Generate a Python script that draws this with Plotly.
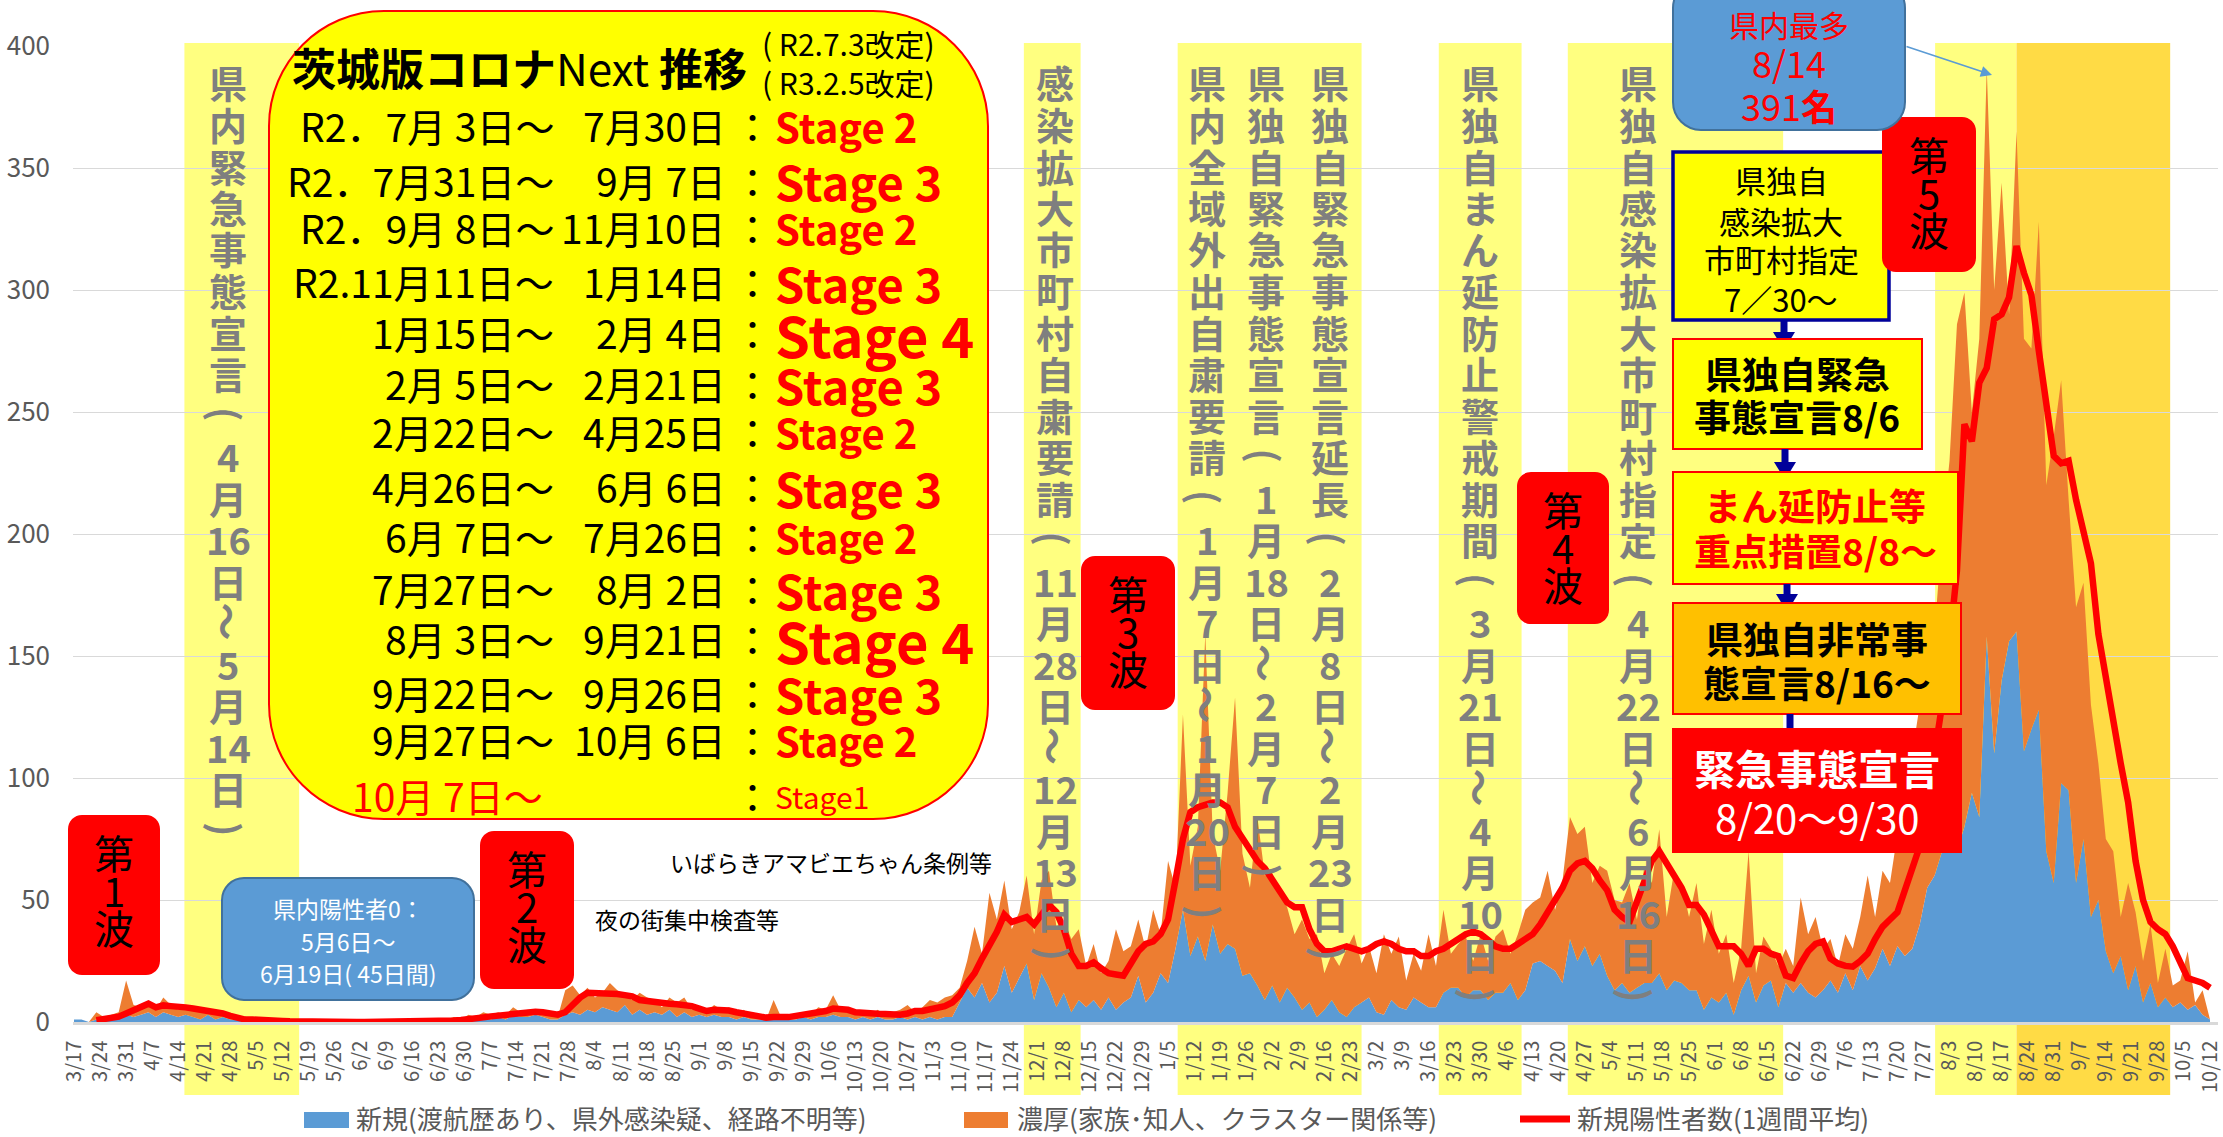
import re
import pandas as pd
import plotly.graph_objects as go

# ---------------- data (sampled every 2 days from 2020-03-17) ----------------
START = "2020-03-17"

new_cases = [  # 新規(渡航歴あり、県外感染疑、経路不明等)
    1, 1, 0, 1, 1, 1, 2, 3, 2, 3,            # 3/17-
    4, 2, 4, 3, 2, 3, 2, 1, 3, 1,            # 4/6-
    2, 1, 1, 0, 0, 0, 0, 0, 0, 0,            # 4/26-
    0, 0, 0, 0, 0, 0, 0, 0, 0, 0,            # 5/16-
    0, 0, 0, 0, 0, 0, 0, 0, 0, 0,            # 6/5-
    1, 0, 1, 0, 1, 2, 1, 2, 1, 3,            # 6/25-
    2, 2, 3, 2, 1, 1, 3, 4, 3, 5,            # 7/15-
    4, 6, 5, 4, 7, 3, 5, 3, 4, 3,            # 8/4-
    5, 2, 4, 2, 3, 2, 3, 2, 2, 1,            # 8/24-
    2, 1, 1, 1, 1, 1, 1, 1, 2, 1,            # 9/13-
    2, 2, 3, 2, 2, 1, 2, 1, 2, 1,            # 10/3-
    1, 2, 1, 2, 1, 2, 1, 2, 2, 8,            # 10/23-
    14, 10, 16, 8, 12, 23, 12, 18, 24, 9,    # 11/12-
    20, 14, 6, 12, 4, 9, 6, 9, 5, 10,        # 12/2-
    5, 8, 10, 19, 8, 12, 20, 16, 30, 46,     # 12/22-
    27, 35, 25, 40, 28, 32, 30, 19, 20, 15,  # 1/11-
    9, 15, 8, 14, 10, 5, 8, 2, 5, 9,         # 1/31-
    4, 2, 6, 8, 10, 4, 3, 9, 6, 5,           # 2/20-
    10, 8, 6, 6, 12, 14, 14, 10, 13, 13,     # 3/12-
    9, 12, 12, 16, 9, 13, 24, 25, 23, 21,    # 4/1-
    16, 34, 25, 31, 23, 28, 19, 13, 16, 12,  # 4/21-
    14, 16, 16, 20, 13, 17, 16, 13, 13, 5,   # 5/11-
    10, 8, 12, 3, 13, 19, 8, 15, 17, 6,      # 5/31-
    16, 12, 16, 12, 10, 13, 17, 12, 20, 13,  # 6/20-
    23, 17, 22, 30, 23, 31, 27, 30, 40, 55,  # 7/10-
    60, 70, 75, 70, 80, 94, 84, 158, 110, 140,   # 7/30-
    156, 160, 111, 120, 128, 70, 57, 98, 95, 57, # 8/19-
    75, 43, 50, 29, 20, 27, 13, 23, 8, 16,   # 9/8-
    6, 10, 6, 8, 5, 7, 3, 1,                 # 9/28-
]

close_contact = [  # 濃厚(家族･知人、クラスター関係等)
    0, 0, 0, 3, 1, 2, 2, 14, 5, 3,
    4, 3, 6, 4, 3, 4, 3, 3, 2, 2,
    2, 1, 1, 1, 1, 0, 0, 0, 0, 0,
    0, 0, 0, 0, 0, 0, 0, 0, 0, 0,
    0, 0, 0, 0, 0, 0, 0, 0, 1, 0,
    0, 2, 0, 3, 1, 2, 2, 2, 2, 3,
    2, 3, 1, 3, 2, 1, 10, 11, 8, 9,
    6, 6, 11, 9, 4, 6, 7, 7, 5, 3,
    5, 6, 6, 3, 3, 2, 4, 3, 4, 2,
    3, 1, 2, 0, 8, 1, 1, 2, 2, 2,
    4, 3, 8, 3, 4, 2, 2, 2, 3, 2,
    3, 3, 6, 2, 5, 7, 7, 8, 9, 6,
    11, 29, 12, 45, 30, 35, 26, 27, 36, 27,
    38, 48, 33, 30, 30, 29, 17, 23, 15, 15,
    33, 21, 21, 23, 22, 34, 16, 50, 25, 80,
    37, 45, 134, 37, 34, 62, 103, 50, 35, 69,
    51, 46, 45, 33, 26, 37, 26, 34, 15, 19,
    19, 28, 30, 16, 21, 16, 33, 19, 29, 12,
    18, 13, 30, 17, 34, 14, 18, 25, 12, 23,
    16, 23, 26, 12, 27, 33, 25, 26, 39, 25,
    42, 50, 52, 49, 34, 36, 43, 37, 33, 45,
    28, 48, 41, 59, 30, 45, 41, 30, 44, 27,
    36, 20, 24, 13, 17, 51, 12, 20, 13, 17,
    14, 11, 35, 24, 33, 17, 17, 11, 16, 17,
    20, 43, 21, 32, 34, 46, 64, 80, 90, 115,
    100, 130, 155, 216, 219, 156, 196, 233, 190, 204,
    134, 205, 169, 156, 200, 150, 183, 165, 119, 113,
    105, 87, 56, 46, 50, 16, 44, 22, 17, 24,
    10, 20, 9, 9, 24, 1, 10, 0,
]

weekly_avg = [  # 新規陽性者数(1週間平均)
    None, None, None, 0.7, 1.2, 1.8, 2.2, 3.5, 5, 6.5,
    7.5, 6, 6.8, 6.5, 6.4, 6, 5.5, 5, 5, 4.2,
    3.5, 2.5, 1.6, 1, 1, 1, 0.8, 0.6, 0.4, 0.3,
    0.2, 0.1, 0, 0, 0, 0, 0, 0, 0, 0,
    0, 0, 0, 0, 0, 0, 0, 0, 0.1, 0.2,
    0.4, 0.6, 0.8, 1, 1.4, 1.9, 2.3, 2.7, 3, 3.4,
    3.7, 4, 4.2, 4, 3.5, 3, 4, 7, 10, 12,
    12, 12, 11.5, 11.5, 11, 10.5, 9, 8.5, 8, 7.8,
    7.5, 7.3, 7, 6.5, 5.5, 4.5, 5, 5, 4.7, 4,
    3.5, 2.5, 2, 1.8, 2, 1.8, 2, 2.5, 3, 3,
    3.5, 4.5, 5.5, 5.5, 5, 4, 3.6, 3.4, 3.4, 3.3,
    3, 3, 3.5, 4.5, 4.5, 5, 5.5, 6.5, 8, 11,
    16, 20, 26, 31, 37, 44, 41, 42, 43, 40,
    44, 48, 45, 38, 28, 23, 23, 24.5, 22, 20,
    19.5, 19, 24, 29, 32, 33, 36, 42, 58, 75,
    86, 88, 89, 90, 90, 88, 80, 75, 70, 66,
    63, 58, 53, 49, 47, 47, 38, 32, 29, 29,
    30, 31, 30, 29, 30, 32, 33, 32, 30, 29,
    29, 27, 27, 29, 30, 32, 34, 36, 37, 36,
    33.6, 31, 30, 30, 32, 34, 36, 40, 45, 50,
    55, 62, 65, 66, 63, 58, 54, 46, 43, 41,
    50, 58, 66, 70, 65, 60, 55, 48, 48, 44,
    38, 31, 31, 31, 28, 23, 30, 30, 28, 27,
    19, 18, 24, 29, 32, 33, 26, 24, 23, 22.7,
    25, 28, 34, 39, 42, 45, 54, 63, 72, 90,
    110, 130, 155, 185, 245, 238, 262, 268, 288, 290,
    297, 318, 307, 298, 275, 251, 232, 229, 230, 214,
    200, 188, 159, 140, 122, 106, 90, 66, 50, 41,
    38, 36, 31, 24, 18, 17, 16, 14,
]

series_names = ["新規(渡航歴あり、県外感染疑、経路不明等)",
                "濃厚(家族･知人、クラスター関係等)",
                "新規陽性者数(1週間平均)"]

tick_dates = pd.date_range("2020-03-17", "2021-10-12", freq="7D")
tick_labels = [f"{d.month}/{d.day}" for d in tick_dates]

# ---------------- styling / layout helpers ----------------
JP = "Noto Sans CJK JP"
AXIS_TXT = "#595959"
BAND_TXT = "#7F7F7F"
BLUE = "#5B9BD5"
ORANGE = "#ED7D31"
RED = "#FF0000"
NAVY = "#00009A"
LIGHT_BAND = "#FFFF80"
DARK_BAND = "#FFDB45"

W, H = 2223, 1137
PL, PR, PT, PB = 73, 2218, 46, 1022


def X(px):
    return (px - PL) / (PR - PL)


def Y(py):
    return (PB - py) / (PB - PT)


shapes = []
ann = []


def T(px, py, text, size, color="#000000", xa="center", angle=0):
    ann.append(dict(xref="paper", yref="paper", x=X(px), y=Y(py), text=text,
                    showarrow=False, xanchor=xa, yanchor="middle", textangle=angle,
                    font=dict(family=JP, size=size, color=color)))


KAPPA = 0.5523


def rr_path(x0, y0, x1, y1, r):
    def P(px, py):
        return f"{X(px):.6f},{Y(py):.6f}"
    k = r * KAPPA
    return (f"M {P(x0 + r, y0)} L {P(x1 - r, y0)} "
            f"C {P(x1 - r + k, y0)} {P(x1, y0 + r - k)} {P(x1, y0 + r)} "
            f"L {P(x1, y1 - r)} "
            f"C {P(x1, y1 - r + k)} {P(x1 - r + k, y1)} {P(x1 - r, y1)} "
            f"L {P(x0 + r, y1)} "
            f"C {P(x0 + r - k, y1)} {P(x0, y1 - r + k)} {P(x0, y1 - r)} "
            f"L {P(x0, y0 + r)} "
            f"C {P(x0, y0 + r - k)} {P(x0 + r - k, y0)} {P(x0 + r, y0)} Z")


def box(x0, y0, x1, y1, fill, lc=None, lw=0, r=0):
    line = dict(color=lc, width=lw) if lw else dict(width=0)
    if r:
        shapes.append(dict(type="path", xref="paper", yref="paper", path=rr_path(x0, y0, x1, y1, r),
                           fillcolor=fill, line=line, layer="above"))
    else:
        shapes.append(dict(type="rect", xref="paper", yref="paper", x0=X(x0), x1=X(x1),
                           y0=Y(y1), y1=Y(y0), fillcolor=fill, line=line, layer="above"))


def down_arrow(xc, ytop, ytip):
    head, hw, sw = 18, 11, 3.5
    shapes.append(dict(type="rect", xref="paper", yref="paper", x0=X(xc - sw), x1=X(xc + sw),
                       y0=Y(ytip - head + 1), y1=Y(ytop), fillcolor=NAVY, line=dict(width=0), layer="above"))
    path = (f"M {X(xc - hw):.6f},{Y(ytip - head):.6f} L {X(xc + hw):.6f},{Y(ytip - head):.6f} "
            f"L {X(xc):.6f},{Y(ytip):.6f} Z")
    shapes.append(dict(type="path", xref="paper", yref="paper", path=path,
                       fillcolor=NAVY, line=dict(width=0), layer="above"))


# ---------------- traces ----------------
dates = pd.date_range(START, periods=len(new_cases), freq="2D")
dates_cc = pd.date_range(START, periods=len(close_contact), freq="2D")
dates_avg = pd.date_range(START, periods=len(weekly_avg), freq="2D")

fig = go.Figure()
fig.add_trace(go.Scatter(x=dates, y=new_cases, name=series_names[0], stackgroup="one",
                         mode="none", fillcolor=BLUE, hoverinfo="skip"))
fig.add_trace(go.Scatter(x=dates_cc, y=close_contact, name=series_names[1], stackgroup="one",
                         mode="none", fillcolor=ORANGE, hoverinfo="skip"))
fig.add_trace(go.Scatter(x=dates_avg, y=weekly_avg, name=series_names[2], mode="lines",
                         line=dict(color=RED, width=6.5), hoverinfo="skip"))

# ---------------- highlighted periods (bands) ----------------
bands = [
    ("2020-04-15 16:00", "2020-05-16 12:00", LIGHT_BAND),
    ("2020-11-27 06:00", "2020-12-12 12:00", LIGHT_BAND),
    ("2021-01-07 14:00", "2021-02-26 00:00", LIGHT_BAND),
    ("2021-03-18 18:00", "2021-04-10 00:00", LIGHT_BAND),
    ("2021-04-22 10:00", "2021-06-19 07:00", LIGHT_BAND),
    ("2021-07-30 03:00", "2021-08-21 00:00", LIGHT_BAND),
    ("2021-08-21 00:00", "2021-10-01 07:00", DARK_BAND),
]
for s, e, col in bands:
    shapes.append(dict(type="rect", xref="x", yref="paper", x0=s, x1=e,
                       y0=Y(1095), y1=Y(43), fillcolor=col, line=dict(width=0), layer="below"))

# vertical band captions
band_captions = [
    (228, "県内緊急事態宣言（4月16日～5月14日）"),
    (1055, "感染拡大市町村自粛要請（11月28日～12月13日）"),
    (1207, "県内全域外出自粛要請（1月7日～1月20日）"),
    (1266, "県独自緊急事態宣言（1月18日～2月7日）"),
    (1330, "県独自緊急事態宣言延長（2月8日～2月23日）"),
    (1480, "県独自まん延防止警戒期間（3月21日～4月10日）"),
    (1638, "県独自感染拡大市町村指定（4月22日～6月16日）"),
]
for xc, s in band_captions:
    for k, tok in enumerate(re.findall(r"\d+|.", s)):
        ang = 0
        if tok == "（":
            tok, ang = "(", 90
        elif tok == "）":
            tok, ang = ")", 90
        elif tok == "～":
            ang = 90
        T(xc, 82 + k * 41.5, f"<b>{tok}</b>", 38, BAND_TXT, angle=ang)

# ---------------- big rounded table box ----------------
box(269, 11, 988, 819, "#FFFF00", RED, 2, r=115)
T(290, 67, "<b>茨城版コロナ</b>Next <b>推移</b>", 44, xa="left")
T(760, 43, "( R2.7.3改定)", 30, xa="left")
T(760, 82, "( R3.2.5改定)", 30, xa="left")

stage_rows = [
    ("R2．7月 3日～", "7月30日", "Stage 2"),
    ("R2．7月31日～", "9月 7日", "Stage 3"),
    ("R2．9月 8日～", "11月10日", "Stage 2"),
    ("R2.11月11日～", "1月14日", "Stage 3"),
    ("1月15日～", "2月 4日", "Stage 4"),
    ("2月 5日～", "2月21日", "Stage 3"),
    ("2月22日～", "4月25日", "Stage 2"),
    ("4月26日～", "6月 6日", "Stage 3"),
    ("6月 7日～", "7月26日", "Stage 2"),
    ("7月27日～", "8月 2日", "Stage 3"),
    ("8月 3日～", "9月21日", "Stage 4"),
    ("9月22日～", "9月26日", "Stage 3"),
    ("9月27日～", "10月 6日", "Stage 2"),
]
row_y = [125, 180, 227, 281, 332, 383, 431, 486, 536, 588, 638, 692, 739]
stage_size = {"Stage 2": 40, "Stage 3": 47, "Stage 4": 56}
for (a, b, st), yy in zip(stage_rows, row_y):
    T(556, yy, a, 39, xa="right")
    T(728, yy, b, 39, xa="right")
    T(752, yy, "：", 39)
    T(773, yy + 1, f"<b>{st}</b>", stage_size[st], RED, xa="left")
T(545, 795, "10月 7日～", 39, RED, xa="right")
T(752, 795, "：", 39)
T(773, 796, "Stage1", 30, RED, xa="left")

# ---------------- wave labels ----------------
waves = [("1", 68, 815, 160, 975), ("2", 480, 831, 574, 989), ("3", 1081, 556, 1175, 710),
         ("4", 1517, 472, 1609, 624), ("5", 1882, 117, 1976, 272)]

# ---------------- right-hand flow boxes ----------------
box(1673, 152, 1889, 320, "#FFFF00", NAVY, 3.5)
for txt, yy in zip(["県独自", "感染拡大", "市町村指定", "7／30～"], [180, 220, 259, 298]):
    T(1781, yy, txt, 31)
down_arrow(1784, 320, 350)

box(1673, 339, 1922, 449, "#FFFF00", RED, 2)
T(1797, 373, "<b>県独自緊急</b>", 37)
T(1797, 416, "<b>事態宣言8/6</b>", 37)
down_arrow(1785, 449, 480)

box(1673, 472, 1958, 584, "#FFFF00", RED, 2)
T(1815, 505, "<b>まん延防止等</b>", 37, RED)
T(1815, 550, "<b>重点措置8/8～</b>", 37, RED)
down_arrow(1787, 584, 612)

box(1673, 603, 1961, 714, "#FFC000", RED, 2)
T(1817, 638, "<b>県独自非常事</b>", 37)
T(1817, 682, "<b>態宣言8/16～</b>", 37)
down_arrow(1790, 714, 747)

box(1673, 729, 1961, 852, "#FF0000", RED, 2)
T(1817, 767, "<b>緊急事態宣言</b>", 41, "#FFFFFF")
T(1817, 817, "8/20～9/30", 40, "#FFFFFF")

for n, x0, y0, x1, y1 in waves:
    box(x0, y0, x1, y1, RED, r=14)
    xc = (x0 + x1) / 2
    for ch, dy in zip(["第", n, "波"], [37, 75, 112]):
        T(xc, y0 + dy, ch, 40)

# zero-case box
box(222, 878, 474, 1000, BLUE, "#41719C", 2, r=22)
T(348, 908, "県内陽性者0：", 23, "#FFFFFF")
T(348, 941, "5月6日～", 23, "#FFFFFF")
T(348, 973, "6月19日( 45日間)", 23, "#FFFFFF")

# max box
box(1673, -20, 1905, 130, BLUE, "#41719C", 2, r=28)
T(1789, 24, "県内最多", 30, RED)
T(1789, 62, "8/14", 36, RED)
T(1789, 105, "391<b>名</b>", 36, RED)
ann.append(dict(xref="paper", yref="paper", x=X(1992), y=Y(75), ax=1905 - 1992, ay=46 - 75,
                axref="pixel", ayref="pixel", text="", showarrow=True, arrowhead=2,
                arrowsize=1.4, arrowwidth=1.6, arrowcolor=BLUE, standoff=0))

# small notes
T(994, 862, "いばらきアマビエちゃん条例等", 23, xa="right")
T(593, 919, "夜の街集中検査等", 23, xa="left")

# ---------------- manual legend ----------------
box(304, 1112, 349, 1128, BLUE)
box(964, 1112, 1008, 1128, ORANGE)
shapes.append(dict(type="line", xref="paper", yref="paper", x0=X(1520), x1=X(1570),
                   y0=Y(1119), y1=Y(1119), line=dict(color=RED, width=7), layer="above"))
T(354, 1117, series_names[0], 26, AXIS_TXT, xa="left")
T(1015, 1117, series_names[1], 26, AXIS_TXT, xa="left")
T(1575, 1117, series_names[2], 26, AXIS_TXT, xa="left")

# ---------------- layout ----------------
fig.update_layout(
    width=W, height=H,
    margin=dict(l=PL, r=W - PR, t=PT, b=H - PB, autoexpand=False),
    paper_bgcolor="white", plot_bgcolor="rgba(0,0,0,0)",
    showlegend=False, hovermode=False,
    font=dict(family=JP),
    shapes=shapes, annotations=ann,
    xaxis=dict(type="date", range=["2020-03-16 17:30", "2021-10-14 03:30"],
               tickmode="array", tickvals=tick_dates, ticktext=tick_labels,
               tickangle=-90, tickfont=dict(family=JP, size=20, color=AXIS_TXT),
               showgrid=False, zeroline=False, showline=True, linecolor="#D9D9D9",
               linewidth=2.5, ticks="", ticklabelstandoff=8),
    yaxis=dict(range=[0, 400], tickmode="linear", tick0=0, dtick=50,
               gridcolor="#D9D9D9", gridwidth=1.3, zeroline=False, showline=False,
               ticks="", tickfont=dict(family=JP, size=26, color=AXIS_TXT),
               ticklabelstandoff=22),
)

fig.write_html("out.html", config={"displayModeBar": False},
               post_script="document.body.style.margin='0';document.body.style.overflow='hidden';")
